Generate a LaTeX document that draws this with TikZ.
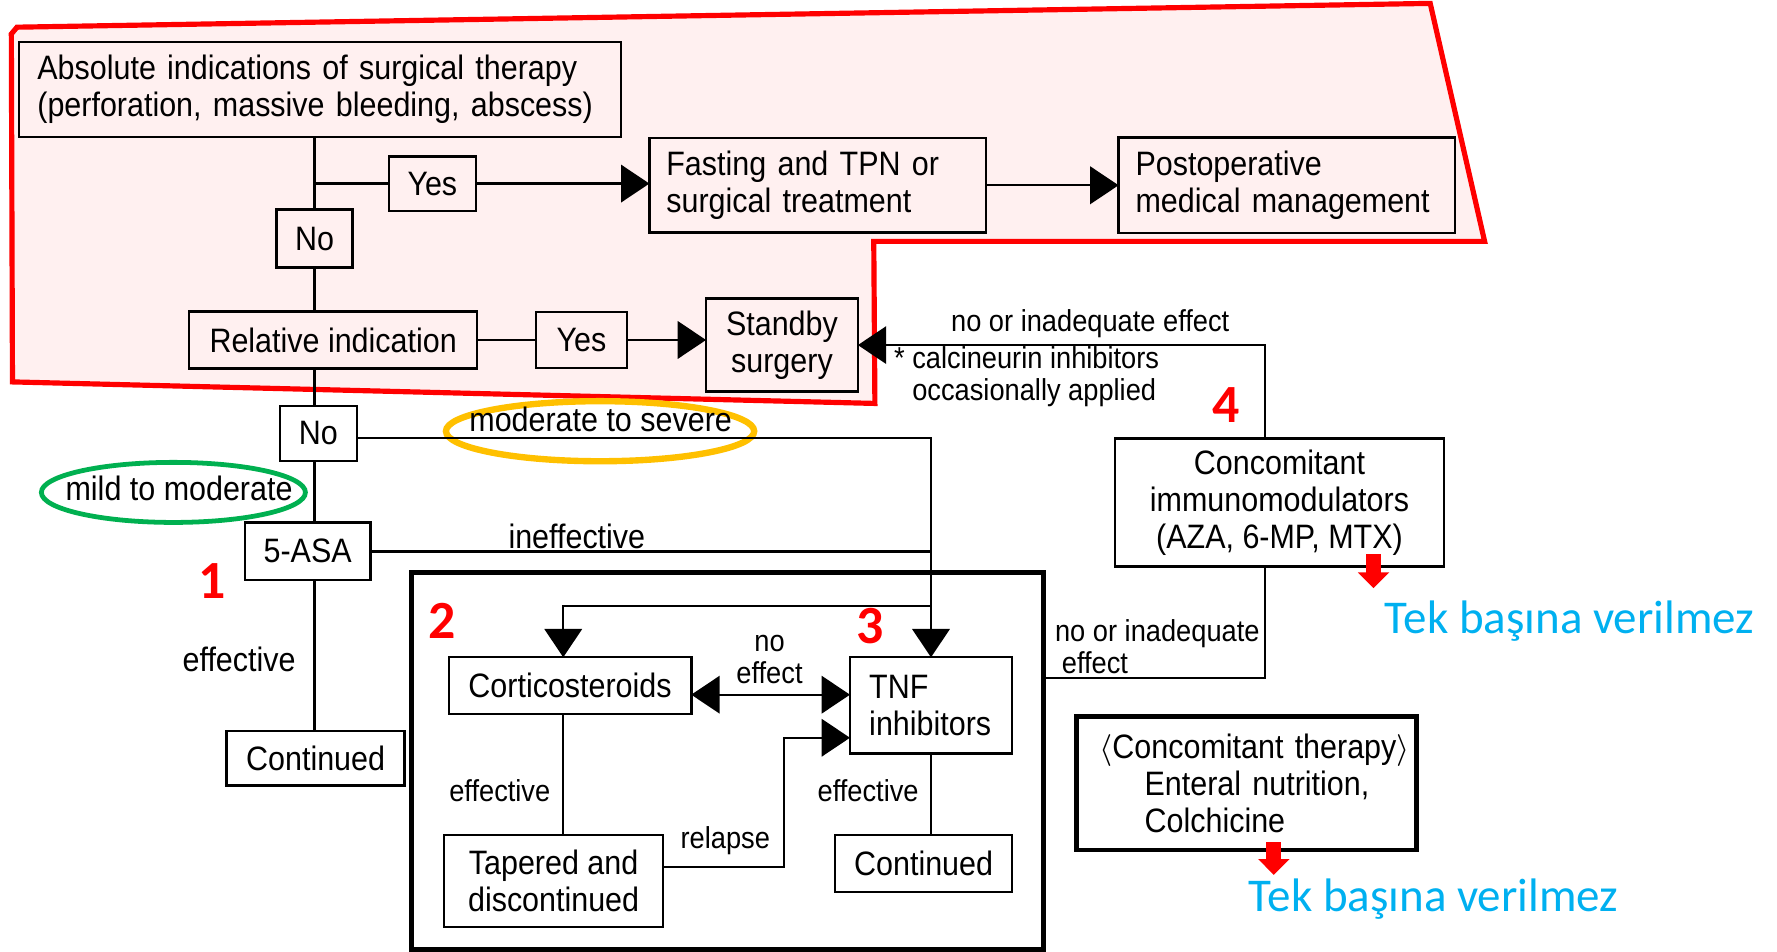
\documentclass[tikz,border=0pt]{standalone}
\usepackage{fontspec}
\setmainfont{Liberation Sans}[FakeStretch=0.9]
\newfontfamily\tekfont{Carlito}
\usepackage{tikz}
\usetikzlibrary{positioning}
\usetikzlibrary{arrows.meta}
\usepackage{xcolor}

\definecolor{notecyan}{RGB}{0,176,240}
\definecolor{ringgreen}{RGB}{0,176,80}
\definecolor{ringorange}{RGB}{255,192,0}
\definecolor{zonepink}{RGB}{255,240,240}

\newcommand\flowfont{\fontsize{8.5}{9.3}\selectfont}
\newcommand\notefont{\fontsize{7.6}{8}\selectfont}
\newcommand\numfont{\tekfont\bfseries\fontsize{13.5}{14}\selectfont}

\begin{document}
\begin{tikzpicture}[x=0.1mm, y=-0.1mm, every node/.style={inner sep=0,outer sep=0, font=\flowfont},
		box/.style={draw, line width=0.6pt, align=center},
		frame/.style={draw, line width=1.2pt},
		conn/.style={line width=0.6pt},
		bigarrow/.style={conn, -{Triangle[length=2.5mm,width=3.3mm]}},
		bigarrows/.style={conn, {Triangle[length=2.5mm,width=3.3mm]}-{Triangle[length=2.5mm,width=3.3mm]}},
		redarrow/.style={red, line width=1.3mm, -{Triangle[length=1.4mm,width=2.7mm]}},
		note/.style={font=\notefont},
		num/.style={red, font=\numfont},
		tek/.style={notecyan, font=\tekfont\fontsize{11.8}{13}\selectfont}]
		
		\useasboundingbox (0,0) rectangle (1568,840);
		
		%Zone
		\draw[red, line width=1.3pt, fill=zonepink] (10,30) -- (15,24) -- (1262,3) -- (1310,213) -- (771,213) -- (772,356) -- (11,337) -- cycle;
		
		%Rings
		\draw[ringgreen, line width=1.2pt] (153,434.5) ellipse [x radius=11.65mm, y radius=2.65mm];
		\draw[ringorange, line width=1.6pt] (529.5,380.5) ellipse [x radius=13.6mm, y radius=2.65mm];
		
		%Nodes
		\node[box, align=left, text width=49.9mm, inner xsep=1.6mm, minimum height=8.4mm] (abs) at (282.5,79) {Absolute indications of surgical therapy\\(perforation, massive bleeding, abscess)};
		\node[box, minimum width=7.7mm, minimum height=4.8mm] (yes1) at (381.5,162) {Yes};
		\node[box, align=left, text width=26.7mm, inner xsep=1.5mm, minimum height=8.3mm] (fast) at (721.5,163.5) {Fasting and TPN or\\surgical treatment};
		\node[box, align=left, text width=26.7mm, inner xsep=1.5mm, minimum height=8.4mm] (postop) [right=11.7mm of fast] {Postoperative\\medical management};
		\node[box, minimum width=6.7mm, minimum height=5.1mm] (no1) at (277.5,210.5) {No};
		\node[box, minimum width=25.4mm, minimum height=5mm] (rel) at (294,300) {Relative indication};
		\node[box, minimum width=8mm, minimum height=4.9mm] (yes2) [right=5.2mm of rel] {Yes};
		\node[box, minimum width=13.4mm, minimum height=8.2mm] (standby) [right=7mm of yes2, yshift=-0.45mm] {Standby\\surgery};
		\node[box, minimum width=6.8mm, minimum height=4.9mm] (no2) at (281,382.5) {No};
		\node[box, minimum width=11.1mm, minimum height=5.1mm] (asa) at (271.5,486.5) {5-ASA};
		\node[box, minimum width=15.7mm, minimum height=4.8mm] (cont1) at (278.5,669) {Continued};
		\node[frame, minimum width=55.8mm, minimum height=33.3mm] (frame) at (642,671.5) {};
		\node[box, minimum width=21.4mm, minimum height=5mm] (cort) at (503,605) {Corticosteroids};
		\node[box, align=left, text width=10.9mm, inner xsep=1.7mm, minimum height=8.5mm] (tnf) at (821.5,622.5) {TNF\\inhibitors};
		\node[box, minimum width=19.3mm, minimum height=8.1mm] (taper) at (488.5,777.5) {Tapered and\\discontinued};
		\node[box, minimum width=15.6mm, minimum height=5mm] (cont2) [below=7.2mm of tnf, xshift=-0.65mm] {Continued};
		\node[box, minimum width=29mm, minimum height=11.3mm] (immuno) at (1129,443.5) {Concomitant\\immunomodulators\\(AZA, 6-MP, MTX)};
		\node[frame, align=left, text width=29.6mm, inner xsep=0.2mm, minimum height=11.8mm] (concom) at (1100,691) {\mbox{\hspace*{1.8mm}$\langle$Concomitant therapy$\rangle$}\\\mbox{\hspace*{5.8mm}Enteral nutrition,}\\\mbox{\hspace*{5.8mm}Colchicine}};
		
		%Labels
		\node (sev) at (530,370) {moderate to severe};
		\node (mild) at (158,431) {mild to moderate};
		\node (ineff) at (509,473) {ineffective};
		\node (eff1) at (211,582) {effective};
		\node[note, align=center] (noeff) at (679,582) {no\\effect};
		\node[note] (eff2) at (441,698) {effective};
		\node[note] (relapse) at (640,742) {relapse};
		\node[note] (eff3) at (766,698) {effective};
		\node[note, align=left, anchor=west] (inad1) at (931,571) {no or inadequate\\\hspace*{0.6mm}effect};
		\node[note] (inad2) at (962,286) {no or inadequate effect};
		\node[note, align=left, anchor=west] (calc) at (789,332) {* calcineurin inhibitors\\\hspace*{1.6mm}occasionally applied};
		\node[num] (n1) at (187,513) {1};
		\node[num] (n2) at (390,548) {2};
		\node[num] (n3) at (768,552) {3};
		\node[num] (n4) at (1082,357) {4};
		\node[tek] (tek1) at (1385,548) {Tek başına verilmez};
		\node[tek] (tek2) at (1265,793) {Tek başına verilmez};
		
		%Lines
		\coordinate (cc) at (497,535);
		\coordinate (rl) at (692,651);
		\coordinate (fb) at (frame.east |- 0,598);
		\draw[conn] (no1.north) -- (no1 |- abs.south);
		\draw[conn] (no1 |- yes1) -- (yes1.west);
		\draw[bigarrow] (yes1.east) -- (yes1.east -| fast.west);
		\draw[bigarrow] (fast.east) -- (fast.east -| postop.west);
		\draw[conn] (no1.south) -- (no1 |- rel.north);
		\draw[conn] (rel.east) -- (yes2.west);
		\draw[bigarrow] (yes2.east) -- (yes2.east -| standby.west);
		\draw[conn] (no1 |- rel.south) -- (no1 |- no2.north);
		\draw[bigarrow] ([yshift=-0.4mm]no2.east) -| (tnf.north);
		\draw[conn] (no1 |- no2.south) -- (no1 |- asa.north);
		\draw[conn] (asa.east) -- (asa.east -| tnf.north);
		\draw[conn] (no1 |- asa.south) -- (no1 |- cont1.north);
		\draw[bigarrow] (tnf.north |- cc) -- (cc) -- (cc |- cort.north);
		\draw[bigarrows] ([yshift=-0.8mm]cort.east) -- ([yshift=-0.8mm]cort.east -| tnf.west);
		\draw[conn] (cc |- cort.south) -- (cc |- taper.north);
		\draw[bigarrow] ([yshift=1.25mm]taper.east) -| (rl) -- (rl -| tnf.west);
		\draw[conn] (tnf.south) -- (tnf.south |- cont2.north);
		\draw[conn] (fb) -| ([xshift=-1.3mm]immuno.south);
		\draw[bigarrow] ([xshift=-1.3mm]immuno.north) |- (standby.east);
		\coordinate (r1) at (1212,489);
		\coordinate (r1e) at (1212,519);
		\coordinate (r2) at (1124,743);
		\coordinate (r2e) at (1124,772);
		\draw[redarrow] (r1) -- (r1e);
		\draw[redarrow] (r2) -- (r2e);
	\end{tikzpicture}
\end{document}
